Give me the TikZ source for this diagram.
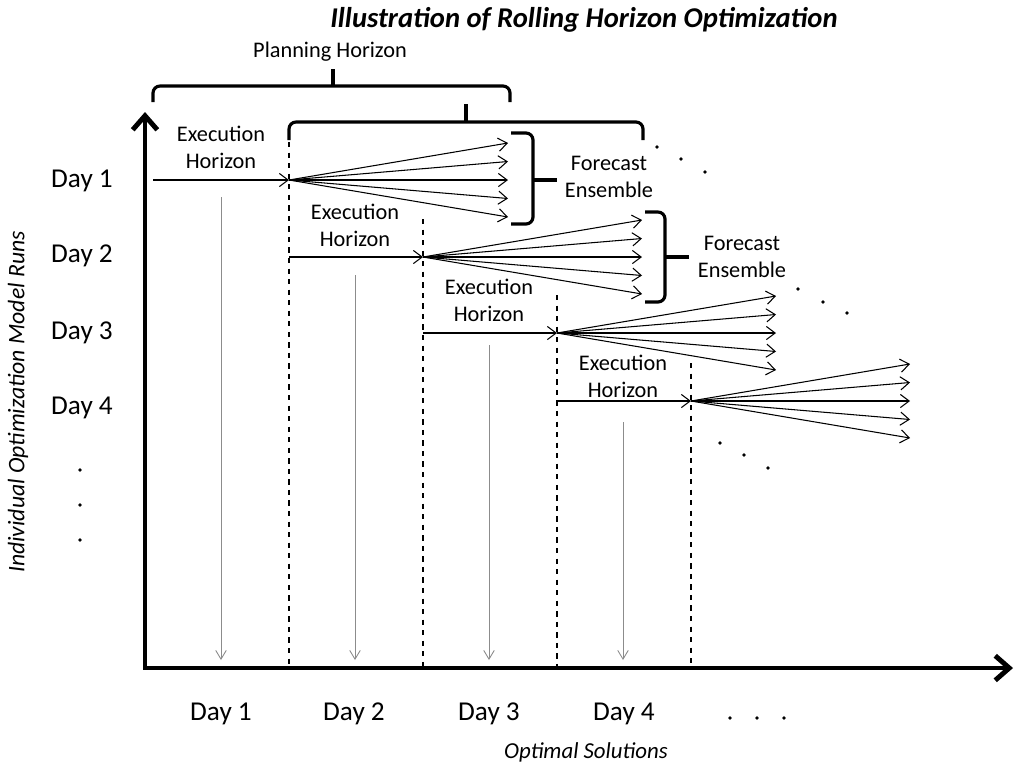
\documentclass[tikz,border=0pt]{standalone}
\usepackage{fontspec}
\setmainfont{Carlito}
\usetikzlibrary{arrows.meta}

\begin{document}
\begin{tikzpicture}[x=0.02cm,y=-0.02cm,
  lbl/.style={font=\fontsize{12.7}{15.3}\selectfont,align=center,inner sep=0pt},
  daylbl/.style={font=\fontsize{15.5}{17}\selectfont,inner sep=0pt},
  fan/.style={-{Straight Barb[length=5pt,width=7.5pt]},line width=0.6pt},
  axis/.style={line width=2.8pt,line join=miter,{Straight Barb[length=8pt,width=14pt]}-{Straight Barb[length=8pt,width=14pt]}},
  brk/.style={line width=1.8pt,rounded corners=4pt},
  sol/.style={-{Straight Barb[length=5pt,width=6pt]},black!45,line width=0.5pt},
  sep/.style={dashed,line width=0.6pt},
  dot/.style={circle,fill,inner sep=0pt,minimum size=2.2pt}]
  \useasboundingbox (0,0) rectangle (1016,765);

  \node[font=\fontsize{16.3}{19}\selectfont\bfseries\itshape,anchor=base] (ttl) at (584,27) {Illustration of Rolling Horizon Optimization};
  \node[lbl] (plan) at (330,52) {Planning Horizon};

  \coordinate (O) at (145,668);
  \coordinate (ytop) at (145,112);
  \coordinate (xend) at (1013,668);
  \draw[axis] (ytop) -- (O) -- (xend);

  \draw[brk] (153,102) -- (153,86) -- (510,86) -- (510,102);
  \draw[brk] (333,86) -- (333,69);
  \draw[brk] (289,140) -- (289,122) -- (643,122) -- (643,140);
  \draw[brk] (466,122) -- (466,104);

  \foreach \r/\xa/\xb/\yy/\xe in {1/153/289/180/508, 2/289/423/257/642, 3/423/557/333/776, 4/557/691/401/910} {
    \coordinate (run\r-s) at (\xa,\yy);
    \coordinate (run\r-o) at (\xb,\yy);
    \foreach \k/\dy in {1/-37,2/-18.5,3/0,4/18.5,5/37}
      \coordinate (run\r-f\k) at ({\xe},{\yy+(\dy)});
    \draw[fan] (run\r-s) -- (run\r-o);
    \foreach \k in {1,...,5}
      \draw[fan] (run\r-o) -- (run\r-f\k);
    \coordinate (sep\r-t) at (\xb,\yy-38);
    \coordinate (sep\r-b) at (\xb,668);
    \draw[sep] (sep\r-t) -- (sep\r-b);
  }

  \foreach \r/\xm/\yt in {1/221/197, 2/355/275, 3/489/345, 4/623/422} {
    \coordinate (sol\r-t) at (\xm,\yt);
    \coordinate (sol\r-b) at (\xm,660);
    \draw[sol] (sol\r-t) -- (sol\r-b);
  }

  \node[lbl] (exec1) at (221,147) {Execution\\Horizon};
  \node[lbl] (exec2) at (355,225) {Execution\\Horizon};
  \node[lbl] (exec3) at (489,300) {Execution\\Horizon};
  \node[lbl] (exec4) at (623,376) {Execution\\Horizon};

  \draw[brk] (511,133) -- (533,133) -- (533,224) -- (511,224);
  \draw[brk] (533,180) -- (557,180);
  \node[lbl] (fc1) at (609,177) {Forecast\\Ensemble};
  \draw[brk] (645,212) -- (665,212) -- (665,302) -- (645,302);
  \draw[brk] (665,257) -- (689,257);
  \node[lbl] (fc2) at (742,257) {Forecast\\Ensemble};

  \foreach \x/\y in {657/147, 681/159, 705/172, 798/289, 823/302, 847/313, 720/443, 744/455, 768/468, 80/470, 80/505, 80/540, 730/718, 757/718, 784/718}
    \node[dot] at (\x,\y) {};

  \node[daylbl] (run1) at (82,181) {Day 1};
  \node[daylbl] (run2) at (82,256) {Day 2};
  \node[daylbl] (run3) at (82,333) {Day 3};
  \node[daylbl] (run4) at (82,408) {Day 4};
  \node[font=\fontsize{13.5}{15}\selectfont\itshape,rotate=90] (ylab) at (18,402) {Individual Optimization Model Runs};

  \node[daylbl] (day1) at (221,714) {Day 1};
  \node[daylbl] (day2) at (354,714) {Day 2};
  \node[daylbl] (day3) at (489,714) {Day 3};
  \node[daylbl] (day4) at (624,714) {Day 4};
  \node[font=\fontsize{13}{15}\selectfont\itshape] (xlab) at (586,752) {Optimal Solutions};
\end{tikzpicture}
\end{document}
